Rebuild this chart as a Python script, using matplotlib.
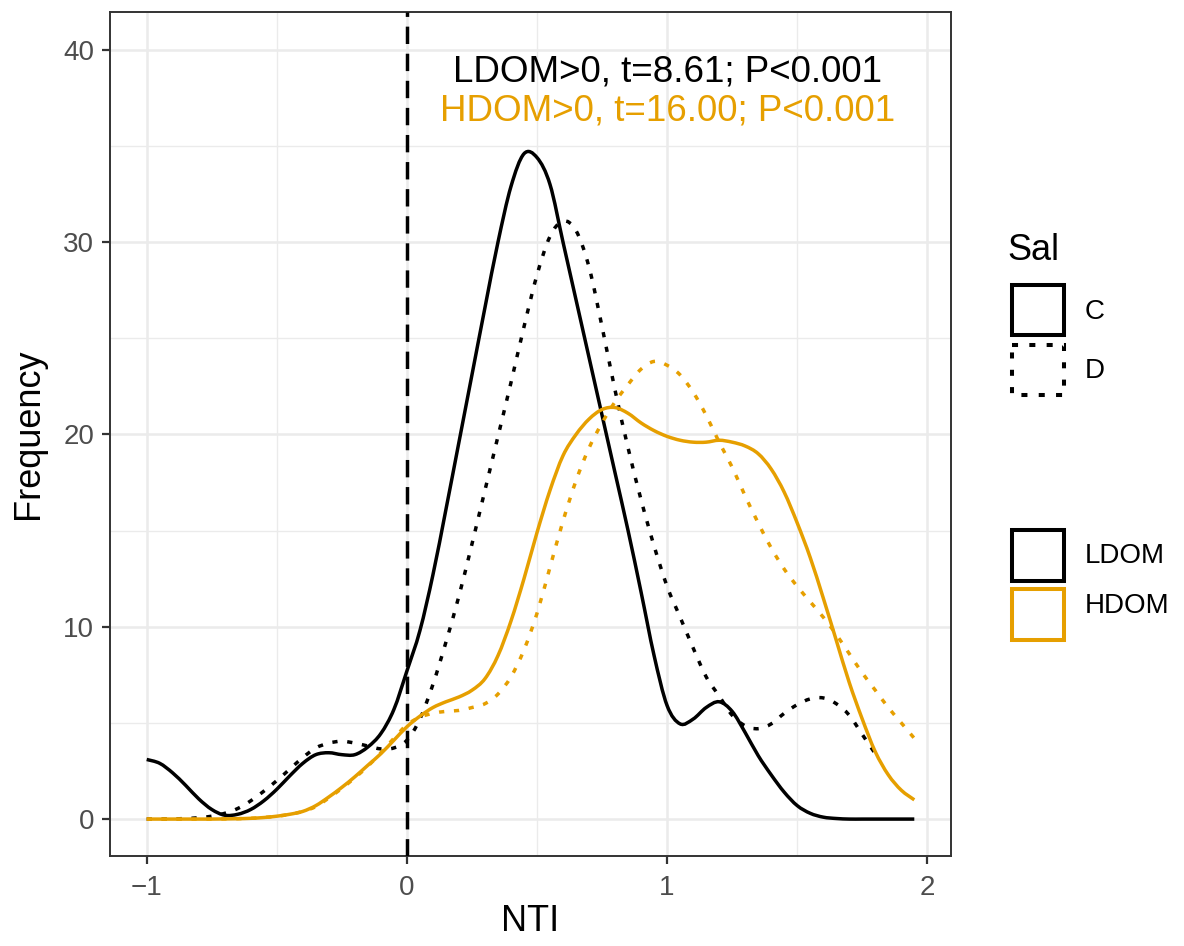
import numpy as np
import matplotlib.pyplot as plt
from matplotlib.patches import Rectangle, PathPatch
from matplotlib.path import Path

plt.rcParams['font.family'] = ['Liberation Sans', 'DejaVu Sans']

# density estimates of NTI, sampled every 0.05
nti = np.round(np.arange(-1.0, 1.951, 0.05), 2)

ldom_c = [3.1, 2.9, 2.4, 1.75, 1.05, 0.5, 0.2, 0.25, 0.5, 0.95,
          1.55, 2.25, 2.9, 3.35, 3.45, 3.35, 3.35, 3.75, 4.45, 5.7,
          7.7, 9.8, 12.7, 16.1, 19.6, 23.1, 26.6, 30.0, 32.9, 34.6,
          34.4, 33.0, 30.0, 27.0, 24.0, 21.0, 18.0, 15.0, 11.8, 8.5,
          5.9, 4.95, 5.2, 5.8, 6.1, 5.6, 4.5, 3.3, 2.3, 1.4,
          0.7, 0.3, 0.1, 0.03, 0.0, 0.0, 0.0, 0.0, 0.0, 0.0]

ldom_d = [0.0, 0.0, 0.01, 0.03, 0.07, 0.15, 0.3, 0.55, 0.95, 1.45,
          2.0, 2.6, 3.2, 3.7, 3.95, 4.05, 3.95, 3.8, 3.65, 3.7,
          4.1, 5.2, 7.0, 9.2, 11.6, 14.3, 17.1, 19.9, 22.7, 25.6,
          28.3, 30.3, 31.1, 30.6, 28.7, 25.6, 22.3, 19.3, 16.6, 14.2,
          12.1, 10.5, 8.9, 7.4, 6.4, 5.4, 4.85, 4.7, 4.95, 5.5,
          5.95, 6.25, 6.3, 6.0, 5.4, 4.4, 3.4]

hdom_c = [0.0, 0.0, 0.0, 0.0, 0.0, 0.0, 0.01, 0.02, 0.04, 0.08,
          0.15, 0.25, 0.4, 0.7, 1.15, 1.65, 2.2, 2.8, 3.4, 4.1,
          4.8, 5.35, 5.8, 6.1, 6.35, 6.7, 7.3, 8.5, 10.3, 12.5,
          14.9, 17.1, 18.9, 20.0, 20.8, 21.3, 21.4, 21.1, 20.6, 20.2,
          19.9, 19.7, 19.6, 19.6, 19.7, 19.6, 19.4, 19.0, 18.2, 17.0,
          15.4, 13.6, 11.5, 9.3, 7.1, 5.2, 3.5, 2.3, 1.5, 1.0]

hdom_d = [0.0, 0.0, 0.0, 0.0, 0.0, 0.0, 0.01, 0.02, 0.04, 0.08,
          0.15, 0.25, 0.4, 0.65, 1.1, 1.6, 2.15, 2.75, 3.45, 4.2,
          4.9, 5.3, 5.5, 5.6, 5.65, 5.8, 6.0, 6.5, 7.4, 8.8,
          10.7, 13.1, 15.5, 17.6, 19.3, 20.6, 21.7, 22.6, 23.4, 23.8,
          23.6, 23.1, 22.2, 21.0, 19.6, 18.3, 16.8, 15.4, 14.1, 13.0,
          12.1, 11.3, 10.5, 9.6, 8.6, 7.6, 6.7, 5.8, 5.0, 4.2]

dom_levels = ['LDOM', 'HDOM']
sal_levels = ['C', 'D']
dom_colors = {'LDOM': 'black', 'HDOM': '#E69F00'}
sal_styles = {'C': '-', 'D': (0, (1.5, 2.8))}

curves = {('LDOM', 'C'): ldom_c, ('LDOM', 'D'): ldom_d,
          ('HDOM', 'C'): hdom_c, ('HDOM', 'D'): hdom_d}

ttest_labels = ['LDOM>0, t=8.61; P<0.001', 'HDOM>0, t=16.00; P<0.001']


def smooth_path(x, y):
    # Catmull-Rom through the samples, as cubic Bezier segments
    p = np.column_stack([x, y])
    q = np.vstack([p[0], p, p[-1]])
    verts = [p[0]]
    codes = [Path.MOVETO]
    for i in range(len(p) - 1):
        c1 = q[i + 1] + (q[i + 2] - q[i]) / 6
        c2 = q[i + 2] - (q[i + 3] - q[i + 1]) / 6
        verts += [c1, c2, q[i + 2]]
        codes += [Path.CURVE4] * 3
    return Path(verts, codes)


fig = plt.figure(figsize=(11.84, 9.46), dpi=100)
ax = fig.add_axes([110/1184, 90/946, 841/1184, 844/946])

for dom in dom_levels:
    for sal in sal_levels:
        y = np.array(curves[(dom, sal)])
        path = smooth_path(nti[:len(y)], y)
        ax.add_patch(PathPatch(path, fill=False, edgecolor=dom_colors[dom],
                               linestyle=sal_styles[sal], lw=2.5, zorder=3,
                               capstyle='butt'))

ax.axvline(0, color='black', lw=2.5, linestyle=(0, (5.0, 2.8)), zorder=4)

for lab, dom, yy in zip(ttest_labels, dom_levels, [38.33, 36.35]):
    ax.text(1.0, yy, lab, color=dom_colors[dom], fontsize=26.5,
            ha='center', va='baseline')

ax.set_xlim(-1.141, 2.091)
ax.set_ylim(-1.92, 41.97)
ax.set_xticks([-1, 0, 1, 2])
ax.set_xticks([-0.5, 0.5, 1.5], minor=True)
ax.set_yticks([0, 10, 20, 30, 40])
ax.set_yticks([5, 15, 25, 35], minor=True)
ax.grid(which='major', color='#EBEBEB', lw=1.8, zorder=0)
ax.grid(which='minor', color='#EBEBEB', lw=1.0, zorder=0)
ax.set_axisbelow(True)
ax.tick_params(which='major', length=5.5, width=1.6, color='#333333',
               labelsize=20, labelcolor='#4D4D4D')
ax.tick_params(axis='x', which='major', pad=8)
ax.tick_params(axis='y', which='major', pad=6)
ax.tick_params(which='minor', length=0)
for sp in ax.spines.values():
    sp.set_color('#333333')
    sp.set_linewidth(1.4)

ax.set_xlabel('NTI', fontsize=26)
ax.set_ylabel('Frequency', fontsize=26)
ax.xaxis.set_label_coords(0.5, -0.057)
ax.yaxis.set_label_coords(-0.076, 0.5)

# legends, laid out in pixel space on an overlay
lg = fig.add_axes([0, 0, 1, 1], zorder=5)
lg.set_xlim(0, 1184)
lg.set_ylim(946, 0)
lg.axis('off')

lg.text(1007, 260, 'Sal', fontsize=26, ha='left', va='baseline')
for sal, (top, mid) in zip(sal_levels, [(285, 312), (345, 371)]):
    lg.add_patch(Rectangle((1012, top), 52, 50, fill=False, edgecolor='black',
                           lw=2.9, linestyle=sal_styles[sal]))
    lg.text(1085, mid, sal, fontsize=20, ha='left', va='center')

for dom, (top, mid) in zip(dom_levels, [(530, 556), (589, 606)]):
    lg.add_patch(Rectangle((1012, top), 52, 51, fill=False,
                           edgecolor=dom_colors[dom], lw=2.9))
    lg.text(1085, mid, dom, fontsize=20, ha='left', va='center')

fig.savefig('out.png', dpi=100)
